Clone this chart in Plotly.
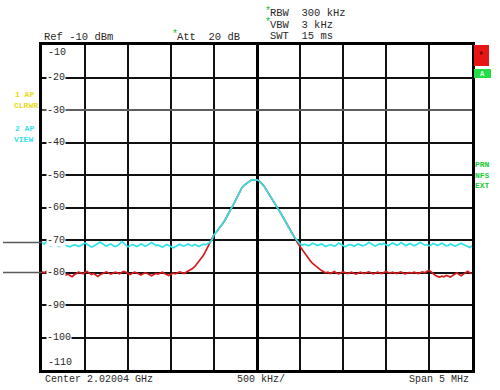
import numpy as np
import plotly.graph_objects as go

# ---------------- data ----------------
span_mhz = 5.0
n_points = 201
freq_offset_mhz = np.linspace(-span_mhz / 2, span_mhz / 2, n_points)  # sweep points

trace2_view = [  # cyan, 2 AP VIEW (dBm)
    -70.8, -71.2, -70.6, -71.5, -71.9, -71.6, -71.3, -71.8, -72.0, -71.6,
    -71.4, -71.7, -71.9, -72.1, -71.8, -71.5, -71.6, -72.0, -71.7, -71.2,
    -70.9, -71.3, -71.8, -72.2, -71.9, -71.4, -71.0, -70.6, -71.1, -71.6,
    -71.9, -71.5, -71.2, -71.7, -72.0, -71.8, -71.3, -70.5, -70.9, -71.6,
    -72.1, -71.8, -71.4, -71.6, -72.0, -71.7, -71.2, -71.5, -71.9, -71.6,
    -71.3, -70.8, -71.2, -71.7, -71.5, -71.9, -72.2, -71.8, -71.4, -71.7,
    -72.0, -72.4, -72.1, -71.6, -71.3, -71.7, -71.9, -71.5, -71.2, -71.6,
    -71.8, -71.4, -71.7, -72.0, -71.6, -71.3, -71.5, -71.1, -70.8,
    -70.0, -68.4, -67.6, -66.8, -66.0, -65.0, -64.0, -62.9, -61.6, -60.3,
    -59.1, -57.9, -56.6, -55.4, -53.9, -53.2, -52.6, -52.1, -51.7, -51.5,
    -51.4, -51.5, -51.8, -52.4, -53.2, -54.2, -55.2, -56.2, -57.3, -58.4,
    -59.5, -60.6, -61.7, -62.9, -64.0, -65.3, -66.6, -67.8, -68.8, -69.6,
    -70.6, -71.2,
    -71.6, -71.3, -71.5, -71.8, -71.4, -71.0, -71.3, -71.7, -71.5, -71.2,
    -71.6, -72.0, -71.7, -71.4, -71.6, -71.9, -71.5, -70.9, -71.3, -71.8,
    -72.1, -71.7, -71.4, -71.5, -71.9, -71.6, -71.2, -71.5, -71.8, -71.6,
    -71.3, -70.7, -71.1, -71.6, -71.9, -71.5, -71.2, -71.4, -71.0, -71.5,
    -71.8, -71.4, -70.9, -71.2, -71.6, -71.3, -70.8, -71.2, -71.7, -71.5,
    -71.1, -71.4, -71.8, -71.5, -71.0, -70.7, -71.2, -71.6, -71.4, -71.8,
    -71.5, -71.1, -71.4, -71.7, -71.3, -71.0, -71.4, -71.8, -71.6, -71.2,
    -71.5, -71.9, -71.6, -71.2, -71.0, -71.4, -71.7, -72.0, -72.3, -71.8,
]

trace1_clrwr = [  # red, 1 AP CLRWR (dBm)
    -79.8, -80.1, -79.7, -80.0, -80.4, -80.2, -79.9, -80.3, -80.6, -80.9,
    -81.2, -80.8, -80.5, -80.9, -81.3, -80.7, -80.2, -79.9, -80.1, -80.4,
    -80.0, -79.7, -80.2, -80.6, -80.3, -80.8, -81.2, -80.7, -80.3, -80.1,
    -79.8, -80.2, -80.5, -80.2, -79.9, -80.1, -80.4, -80.0, -79.7, -79.9,
    -80.3, -80.6, -80.2, -79.9, -80.1, -80.5, -80.8, -80.4, -80.1, -80.3,
    -80.7, -81.0, -80.6, -80.3, -80.5, -80.2, -79.9, -80.3, -80.6, -80.9,
    -80.5, -80.2, -80.4, -80.1, -79.8, -80.0, -80.3, -79.9,
    -79.6, -79.3, -78.8, -78.2, -77.4, -76.6, -75.8, -74.8, -73.6, -72.2,
    -70.8, -69.6,
    -68.4, -67.6, -66.8, -66.0, -65.0, -64.0, -62.9, -61.6, -60.3,
    -59.1, -57.9, -56.6, -55.4, -53.9, -53.2, -52.6, -52.1, -51.7, -51.5,
    -51.4, -51.5, -51.8, -52.4, -53.2, -54.2, -55.2, -56.2, -57.3, -58.4,
    -59.5, -60.6, -61.7, -62.9, -64.0, -65.3, -66.6, -67.8, -68.8,
    -69.9, -71.0, -72.0, -73.0, -74.0, -74.9, -75.8, -76.6, -77.3, -77.9,
    -78.5, -79.0, -79.4,
    -79.8, -80.1, -79.9, -80.3, -80.0, -79.7, -80.2, -80.4, -80.1, -79.8,
    -80.0, -80.3, -80.1, -79.9, -80.2, -80.5, -80.2, -79.9, -80.1, -80.3,
    -80.0, -79.8, -80.1, -80.4, -80.2, -79.9, -80.1, -80.3, -80.0, -79.7,
    -80.0, -80.2, -79.9, -80.1, -80.3, -80.0, -79.8, -80.2, -80.4, -80.1,
    -80.0, -80.2, -79.9, -80.1, -80.3, -80.0, -79.8, -80.1, -79.6, -79.3,
    -79.8, -80.4, -80.9, -81.2, -81.4, -81.1, -81.3, -80.9, -81.2, -81.4,
    -80.9, -80.4, -80.1, -80.6, -81.0, -80.5, -79.9, -79.6, -80.1, -80.3,
]

y_ticks = [-10, -20, -30, -40, -50, -60, -70, -80, -90, -100, -110]
display_lines_dbm = [-70.8, -80.0]

# ---------------- figure ----------------
W, H = 500, 390
L, R, T, B = 42, 28, 45, 20
PW, PH = W - L - R, H - T - B


def px(x):
    return (x - L) / PW


def py(y):
    return (H - B - y) / PH


MONO = "Liberation Mono"
TXT = "#2a2a2a"

fig = go.Figure()
fig.add_trace(go.Scatter(x=freq_offset_mhz, y=trace1_clrwr, mode="lines",
                         line=dict(color="#d41a1a", width=1.7), showlegend=False))
fig.add_trace(go.Scatter(x=freq_offset_mhz, y=trace2_view, mode="lines",
                         line=dict(color="#2fe3ea", width=1.7), showlegend=False))

fig.update_xaxes(range=[-span_mhz / 2, span_mhz / 2], dtick=0.5, tick0=0,
                 showticklabels=False, ticks="", showgrid=True,
                 gridcolor="#111", gridwidth=1.8,
                 zeroline=True, zerolinecolor="#000", zerolinewidth=2.6,
                 showline=True, mirror=True, linecolor="#000", linewidth=3)
fig.update_yaxes(range=[-110, -10], dtick=10, tick0=-10,
                 showticklabels=False, ticks="", showgrid=True,
                 gridcolor="#111", gridwidth=1.6, zeroline=False,
                 showline=True, mirror=True, linecolor="#000", linewidth=3)

shapes = []
# lighter -30 gridline
shapes.append(dict(type="line", xref="paper", yref="y", x0=0, x1=1, y0=-30, y1=-30,
                   line=dict(color="#777777", width=1.6), layer="above"))
# display-line markers left of the grid
for v in display_lines_dbm:
    shapes.append(dict(type="line", xref="paper", yref="y", x0=px(3), x1=0, y0=v, y1=v,
                       line=dict(color="#5a5a5a", width=1.5)))
# right status boxes
shapes.append(dict(type="rect", xref="paper", yref="paper", x0=px(474), x1=px(489),
                   y0=py(66), y1=py(45), fillcolor="#e81515", line=dict(width=0)))
shapes.append(dict(type="rect", xref="paper", yref="paper", x0=px(474), x1=px(491),
                   y0=py(78), y1=py(69), fillcolor="#22dd44", line=dict(width=0)))
fig.update_layout(shapes=shapes)

ann = []


def text(x, y, s, size=10.5, color=TXT, xanchor="left", yanchor="middle", bold=False, **kw):
    if bold:
        s = "<b>" + s + "</b>"
    ann.append(dict(xref="paper", yref="paper", x=px(x), y=py(y), text=s,
                    showarrow=False, xanchor=xanchor, yanchor=yanchor,
                    font=dict(family=MONO, size=size, color=color), **kw))


# header
text(42, 37, "Ref -10 dBm")
text(170, 34, "*", size=10, color="#22bb33")
text(175, 37, "Att  20 dB")
text(263, 11, "*", size=10, color="#22bb33")
text(268, 13, "RBW  300 kHz")
text(263, 23, "*", size=10, color="#22bb33")
text(268, 25, "VBW  3 kHz")
text(268, 36, "SWT  15 ms")
# left trace labels
text(13, 94, "1 AP", size=8, color="#e8d820", bold=True)
text(12, 105, "CLRWR", size=8, color="#e8d820", bold=True)
text(13, 128, "2 AP", size=8, color="#35e0ee", bold=True)
text(12, 139, "VIEW", size=8, color="#35e0ee", bold=True)
# right status
text(481.5, 56, "*", size=10, color="#5a0000", xanchor="center")
text(482.5, 74, "A", size=7, color="#eaffea", xanchor="center", bold=True)
text(473, 164, "PRN", size=8, color="#22cc33", bold=True)
text(473, 175, "NFS", size=8, color="#22cc33", bold=True)
text(473, 185, "EXT", size=8, color="#22cc33", bold=True)
# footer
text(43, 379, "Center 2.02004 GHz", size=10)
text(235, 379, "500 kHz/", size=10)
text(471, 379, "Span 5 MHz", size=10, xanchor="right")

# y tick labels inside grid
for v in y_ticks:
    if v == -10:
        ann.append(dict(xref="paper", yref="paper", x=px(46), y=py(53), text=str(v),
                        showarrow=False, xanchor="left", yanchor="middle",
                        font=dict(family=MONO, size=10, color=TXT)))
    elif v == -110:
        ann.append(dict(xref="paper", yref="paper", x=px(46), y=py(362), text=str(v),
                        showarrow=False, xanchor="left", yanchor="middle",
                        font=dict(family=MONO, size=10, color=TXT)))
    else:
        ann.append(dict(xref="paper", yref="y", x=px(46), y=v, text=str(v),
                        showarrow=False, xanchor="left", yanchor="middle",
                        bgcolor="white", borderpad=0,
                        font=dict(family=MONO, size=10, color=TXT)))

fig.update_layout(annotations=ann, width=W, height=H,
                  margin=dict(l=L, r=R, t=T, b=B),
                  paper_bgcolor="white", plot_bgcolor="white")

fig.write_html("out.html", config={"displayModeBar": False},
               post_script="document.body.style.margin='0';document.body.style.overflow='hidden';")
